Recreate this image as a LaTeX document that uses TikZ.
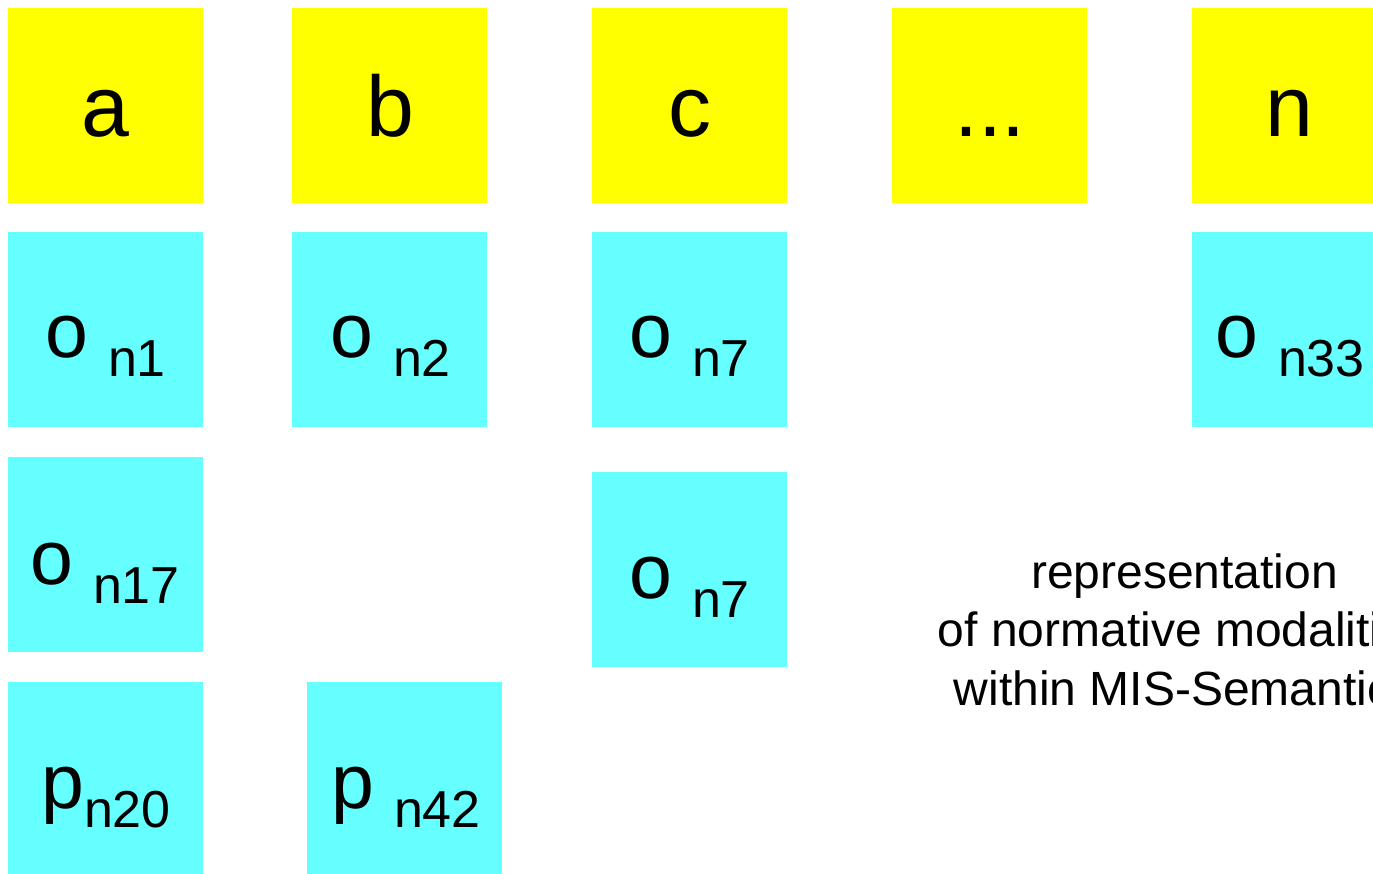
\documentclass[tikz,border=0pt]{standalone}
\usepackage{fontspec}
\setmainfont{Liberation Sans}
\definecolor{boxyellow}{HTML}{FFFF00}
\definecolor{boxcyan}{HTML}{66FFFF}
\newcommand\subtxt[1]{\raisebox{-19pt}{\fontsize{52}{52}\selectfont #1}}
\begin{document}
\begin{tikzpicture}[x=1pt,y=-1pt,
  ybox/.style={rectangle, fill=boxyellow, draw=none, inner sep=0pt, outer sep=0pt,
    minimum width=195pt, minimum height=195pt, anchor=north west},
  cbox/.style={ybox, fill=boxcyan},
  biglet/.style={inner sep=0pt, anchor=base, font=\fontsize{86}{86}\selectfont},
  olabel/.style={inner sep=0pt, anchor=base west, font=\fontsize{77}{77}\selectfont},
  note/.style={inner sep=0pt, anchor=base, align=center, font=\fontsize{48}{58.5}\selectfont}]
\useasboundingbox (0,0) rectangle (1373,874);
\clip (0,0) rectangle (1373,874);
% yellow row
\node[ybox] (ya) at (8,8) {};
\node[ybox] (yb) at (292,8) {};
\node[ybox] (yc) at (592,8) {};
\node[ybox] (ydots) at (892,8) {};
\node[ybox] (yn) at (1192,8) {};
\node[biglet] (ta) at (105.5,137) {a};
\node[biglet] (tb) at (390,137) {b};
\node[biglet] (tc) at (690,137) {c};
\node[biglet] (tdots) at (990,137) {...};
\node[biglet] (tn) at (1289.5,137) {n};
% cyan boxes
\node[cbox] (cn1) at (8,232) {};
\node[cbox] (cn2) at (292,232) {};
\node[cbox] (cn7) at (592,232) {};
\node[cbox] (cn33) at (1192,232) {};
\node[cbox] (cn17) at (8,457) {};
\node[cbox] (cn7b) at (592,472) {};
\node[cbox] (cn20) at (8,682) {};
\node[cbox] (cn42) at (307,682) {};
\node[olabel] (ln1) at (45,358) {o\hspace{20pt}\subtxt{n1}};
\node[olabel] (ln2) at (330,358) {o\hspace{20pt}\subtxt{n2}};
\node[olabel] (ln7) at (629,358) {o\hspace{20pt}\subtxt{n7}};
\node[olabel] (ln33) at (1215,358) {o\hspace{20pt}\subtxt{n33}};
\node[olabel] (ln17) at (30,584) {o\hspace{20pt}\subtxt{n17}};
\node[olabel] (ln7b) at (629,598) {o\hspace{20pt}\subtxt{n7}};
\node[olabel] (ln20) at (41,808) {p\subtxt{n20}};
\node[olabel] (ln42) at (331,808) {p\hspace{20pt}\subtxt{n42}};
% note
\node[note] (txt) at (1184.5,705) {representation\\of normative modalities\\within MIS-Semantics};
\end{tikzpicture}
\end{document}
